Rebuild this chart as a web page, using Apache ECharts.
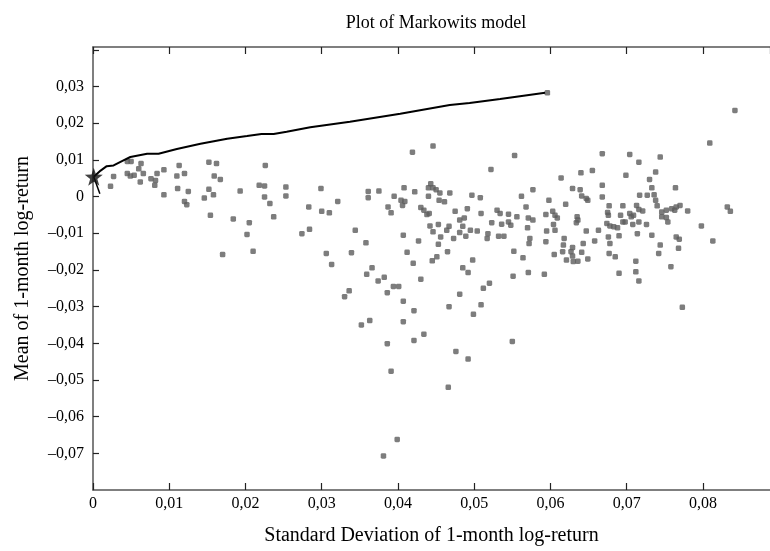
<!DOCTYPE html>
<html>
<head>
<meta charset="utf-8">
<script src="https://cdn.jsdelivr.net/npm/echarts@6/dist/echarts.min.js"></script>
<style>
  html, body { margin: 0; padding: 0; background: #fff; }
  #chart { width: 770px; height: 551px; }
</style>
</head>
<body>
<div id="chart"></div>
<script>
// Individual assets: standard deviation and mean of 1-month log-returns
var assetStd = [
  0.0023,0.0027,0.0045,0.0050,0.0063,0.0060,0.0045,0.0049,0.0054,0.0066,0.0062,0.0076,0.0082,0.0081,0.0084,0.0093,0.0093,0.0110,0.0113,0.0120,
  0.0111,0.0125,0.0120,0.0123,0.0146,0.0152,0.0162,0.0159,0.0167,0.0152,0.0158,0.0154,0.0193,0.0226,0.0218,0.0225,0.0225,0.0232,0.0253,0.0253,
  0.0283,0.0237,0.0184,0.0205,0.0202,0.0210,0.0170,0.0274,0.0284,0.0446,0.0419,0.0553,0.0522,0.0299,0.0321,0.0300,0.0310,0.0306,0.0313,0.0344,
  0.0358,0.0339,0.0361,0.0361,0.0375,0.0387,0.0391,0.0395,0.0404,0.0409,0.0406,0.0408,0.0422,0.0430,0.0434,0.0438,0.0441,0.0443,0.0440,0.0446,
  0.0450,0.0455,0.0440,0.0454,0.0461,0.0468,0.0407,0.0427,0.0412,0.0420,0.0442,0.0453,0.0446,0.0456,0.0453,0.0464,0.0467,0.0473,0.0465,0.0445,
  0.0451,0.0475,0.0481,0.0487,0.0485,0.0481,0.0489,0.0495,0.0504,0.0491,0.0497,0.0508,0.0509,0.0523,0.0518,0.0517,0.0532,0.0539,0.0530,0.0534,
  0.0545,0.0536,0.0545,0.0548,0.0556,0.0562,0.0568,0.0571,0.0577,0.0570,0.0573,0.0572,0.0577,0.0594,0.0598,0.0595,0.0594,0.0552,0.0564,0.0498,
  0.0485,0.0492,0.0481,0.0512,0.0520,0.0509,0.0467,0.0551,0.0571,0.0592,0.0430,0.0359,0.0366,0.0374,0.0382,0.0394,0.0401,0.0386,0.0407,0.0336,
  0.0330,0.0421,0.0499,0.0352,0.0363,0.0407,0.0386,0.0421,0.0434,0.0476,0.0492,0.0550,0.0391,0.0466,0.0399,0.0381,0.0596,0.0842,0.0809,0.0668,
  0.0704,0.0716,0.0744,0.0640,0.0655,0.0614,0.0699,0.0730,0.0738,0.0764,0.0629,0.0639,0.0668,0.0641,0.0647,0.0649,0.0668,0.0717,0.0727,0.0733,
  0.0736,0.0738,0.0620,0.0677,0.0695,0.0713,0.0716,0.0721,0.0740,0.0746,0.0752,0.0759,0.0765,0.0770,0.0763,0.0780,0.0746,0.0752,0.0754,0.0603,
  0.0606,0.0609,0.0635,0.0636,0.0634,0.0675,0.0676,0.0692,0.0704,0.0706,0.0709,0.0604,0.0606,0.0647,0.0663,0.0674,0.0678,0.0683,0.0688,0.0695,
  0.0698,0.0690,0.0708,0.0716,0.0726,0.0714,0.0733,0.0765,0.0769,0.0798,0.0676,0.0678,0.0658,0.0643,0.0618,0.0617,0.0605,0.0616,0.0621,0.0627,
  0.0629,0.0629,0.0630,0.0636,0.0641,0.0649,0.0677,0.0685,0.0712,0.0744,0.0742,0.0768,0.0690,0.0712,0.0716,0.0758,0.0813,0.0832,0.0836,0.0773
];
var assetMean = [
  0.0028,0.0055,0.0096,0.0096,0.0090,0.0076,0.0063,0.0056,0.0058,0.0063,0.0040,0.0049,0.0044,0.0031,0.0063,0.0073,0.0005,0.0056,0.0085,0.0063,
  0.0022,0.0014,-0.0013,-0.0022,-0.0004,0.0094,0.0090,0.0056,0.0047,0.0020,0.0005,-0.0051,0.0015,0.0085,0.0031,0.0029,-0.0001,-0.0019,0.0026,0.0002,
  -0.0028,-0.0055,-0.0061,-0.0071,-0.0103,-0.0149,-0.0158,-0.0101,-0.0089,0.0138,0.0121,0.0112,0.0074,0.0022,-0.0013,-0.0040,-0.0044,-0.0155,-0.0185,-0.0092,
  -0.0126,-0.0153,0.0014,-0.0003,0.0015,-0.0028,-0.0044,0.0001,-0.0010,-0.0013,-0.0024,0.0024,0.0013,-0.0030,-0.0037,-0.0049,-0.0046,0.0035,0.0024,0.0024,
  0.0019,0.0010,0.0001,-0.0010,-0.0014,0.0010,-0.0105,-0.0121,-0.0152,-0.0182,-0.0080,-0.0076,-0.0096,-0.0110,-0.0130,-0.0092,-0.0081,-0.0114,-0.0150,-0.0175,
  -0.0164,-0.0040,-0.0064,-0.0058,-0.0081,-0.0098,-0.0108,-0.0092,-0.0094,-0.0033,0.0004,-0.0003,-0.0046,-0.0071,-0.0101,-0.0114,-0.0108,-0.0108,-0.0037,-0.0046,
  -0.0048,-0.0075,-0.0069,-0.0078,-0.0055,0.0001,-0.0028,-0.0058,-0.0064,-0.0085,-0.0114,-0.0128,0.0019,-0.0049,-0.0010,-0.0094,-0.0123,-0.0149,-0.0167,-0.0173,
  -0.0194,-0.0207,-0.0266,-0.0250,-0.0236,-0.0295,-0.0300,-0.0217,-0.0207,-0.0212,-0.0225,-0.0212,-0.0194,-0.0230,-0.0220,-0.0245,-0.0245,-0.0262,-0.0285,-0.0257,
  -0.0273,-0.0311,-0.0321,-0.0350,-0.0338,-0.0341,-0.0401,-0.0392,-0.0375,-0.0422,-0.0443,-0.0395,-0.0476,-0.0520,-0.0662,-0.0707,0.0283,0.0235,0.0146,0.0117,
  0.0115,0.0094,0.0108,0.0065,0.0071,0.0051,0.0058,0.0047,0.0067,0.0024,0.0022,0.0019,0.0031,0.0002,-0.0005,-0.0010,-0.0001,0.0004,0.0004,0.0024,
  0.0005,-0.0010,-0.0021,-0.0025,-0.0025,-0.0024,-0.0035,-0.0039,-0.0025,-0.0042,-0.0037,-0.0033,-0.0028,-0.0024,-0.0037,-0.0039,-0.0055,-0.0057,-0.0069,-0.0040,
  -0.0051,-0.0058,-0.0055,-0.0064,-0.0071,-0.0043,-0.0051,-0.0051,-0.0046,-0.0055,-0.0051,-0.0076,-0.0092,-0.0094,-0.0092,-0.0073,-0.0080,-0.0082,-0.0085,-0.0069,
  -0.0069,-0.0107,-0.0076,-0.0069,-0.0076,-0.0101,-0.0105,-0.0110,-0.0116,-0.0080,-0.0110,-0.0128,-0.0121,-0.0128,-0.0114,-0.0132,-0.0158,-0.0150,-0.0173,-0.0150,
  -0.0162,-0.0139,-0.0177,-0.0176,-0.0152,-0.0170,-0.0155,-0.0164,-0.0176,-0.0132,-0.0155,-0.0141,-0.0209,-0.0205,-0.0230,-0.0191,-0.0121,-0.0028,-0.0040,-0.0302
];

// Efficient frontier
var frontierStd  = [0.0001,0.0010,0.0018,0.0027,0.0038,0.0049,0.0071,0.0086,0.0110,0.0141,0.0176,0.0202,0.0221,0.0237,0.0254,0.0285,0.0337,0.0403,0.0468,0.0494,0.0534,0.0560,0.0593];
var frontierMean = [0.0054,0.0071,0.0083,0.0085,0.0097,0.0108,0.0117,0.0117,0.0130,0.0144,0.0158,0.0165,0.0171,0.0171,0.0177,0.0189,0.0204,0.0226,0.0250,0.0255,0.0266,0.0274,0.0283];

// Short segment below the marked portfolio
var tailStd  = [0.0001, 0.0009];
var tailMean = [0.0054, 0.0008];

// Marked portfolio (star)
var starStd  = [0.0001];
var starMean = [0.0054];

var xTicks = [0, 0.01, 0.02, 0.03, 0.04, 0.05, 0.06, 0.07, 0.08];
var yTicks = [-0.07, -0.06, -0.05, -0.04, -0.03, -0.02, -0.01, 0, 0.01, 0.02, 0.03];

function zip(a, b) { return a.map(function (v, i) { return [v, b[i]]; }); }

function fmt(list) {
  return function (v) {
    for (var i = 0; i < list.length; i++) {
      if (Math.abs(list[i] - v) < 1e-9) {
        if (list[i] === 0) return '0';
        var s = Math.abs(list[i]).toFixed(2).replace('.', ',');
        return (list[i] < 0 ? '\u2013' : '') + s;
      }
    }
    return '';
  };
}

var serif = '"Liberation Serif", "DejaVu Serif", serif';
var axisLineStyle = { color: '#555', width: 1.5 };
var tickStyle = { color: '#222', width: 1.2 };

var chart = echarts.init(document.getElementById('chart'), null, { renderer: 'canvas' });
chart.setOption({
  animation: false,
  backgroundColor: '#fff',
  title: {
    text: 'Plot of Markowits model',
    left: 431, top: 9, textAlign: 'center',
    textStyle: { fontFamily: serif, fontSize: 18, fontWeight: 'normal', color: '#000' }
  },
  grid: { left: 93, right: 0, top: 47, bottom: 58, containLabel: false },
  xAxis: [{
    type: 'value', position: 'bottom', min: 0, max: 0.0888, interval: 0.01,
    name: 'Standard Deviation of 1-month log-return',
    nameLocation: 'middle', nameGap: 36,
    nameTextStyle: { fontFamily: serif, fontSize: 20, color: '#000' },
    axisLine: { show: true, onZero: false, lineStyle: axisLineStyle },
    axisTick: { show: true, inside: true, length: 7, lineStyle: tickStyle },
    axisLabel: { formatter: fmt(xTicks), fontFamily: serif, fontSize: 16, color: '#000', margin: 6, showMaxLabel: false },
    splitLine: { show: false }
  }, {
    type: 'value', position: 'top', min: 0, max: 0.0888, interval: 0.01,
    axisLine: { show: true, onZero: false, lineStyle: axisLineStyle },
    axisTick: { show: true, inside: true, length: 7, lineStyle: tickStyle },
    axisLabel: { show: false },
    splitLine: { show: false }
  }],
  yAxis: {
    type: 'value', min: -0.08, max: 0.0408, interval: 0.01,
    name: 'Mean of 1-month log-return',
    nameLocation: 'middle', nameGap: 60,
    nameTextStyle: { fontFamily: serif, fontSize: 20, color: '#000' },
    axisLine: { show: true, onZero: false, lineStyle: axisLineStyle },
    axisTick: { show: true, inside: true, length: 6, lineStyle: tickStyle },
    axisLabel: { formatter: fmt(yTicks), fontFamily: serif, fontSize: 16, color: '#000', margin: 9, showMinLabel: false, showMaxLabel: false },
    splitLine: { show: false }
  },
  series: [{
    name: 'Assets',
    type: 'scatter',
    data: zip(assetStd, assetMean),
    symbol: 'roundRect',
    symbolSize: 5.5,
    itemStyle: { color: '#5c5c5c' },
    z: 2
  }, {
    name: 'Frontier',
    type: 'line',
    data: zip(frontierStd, frontierMean),
    showSymbol: false,
    lineStyle: { color: '#000', width: 2 },
    z: 3
  }, {
    name: 'Tail',
    type: 'line',
    data: zip(tailStd, tailMean),
    showSymbol: false,
    lineStyle: { color: '#000', width: 1.5 },
    z: 3
  }, {
    name: 'Portfolio',
    type: 'scatter',
    data: zip(starStd, starMean),
    symbol: 'path://M0,-10L2.35,-3.24L9.51,-3.09L3.8,1.24L5.88,8.09L0,4L-5.88,8.09L-3.8,1.24L-9.51,-3.09L-2.35,-3.24Z',
    symbolSize: 18,
    itemStyle: { color: '#111' },
    z: 4
  }]
});
</script>
</body>
</html>
